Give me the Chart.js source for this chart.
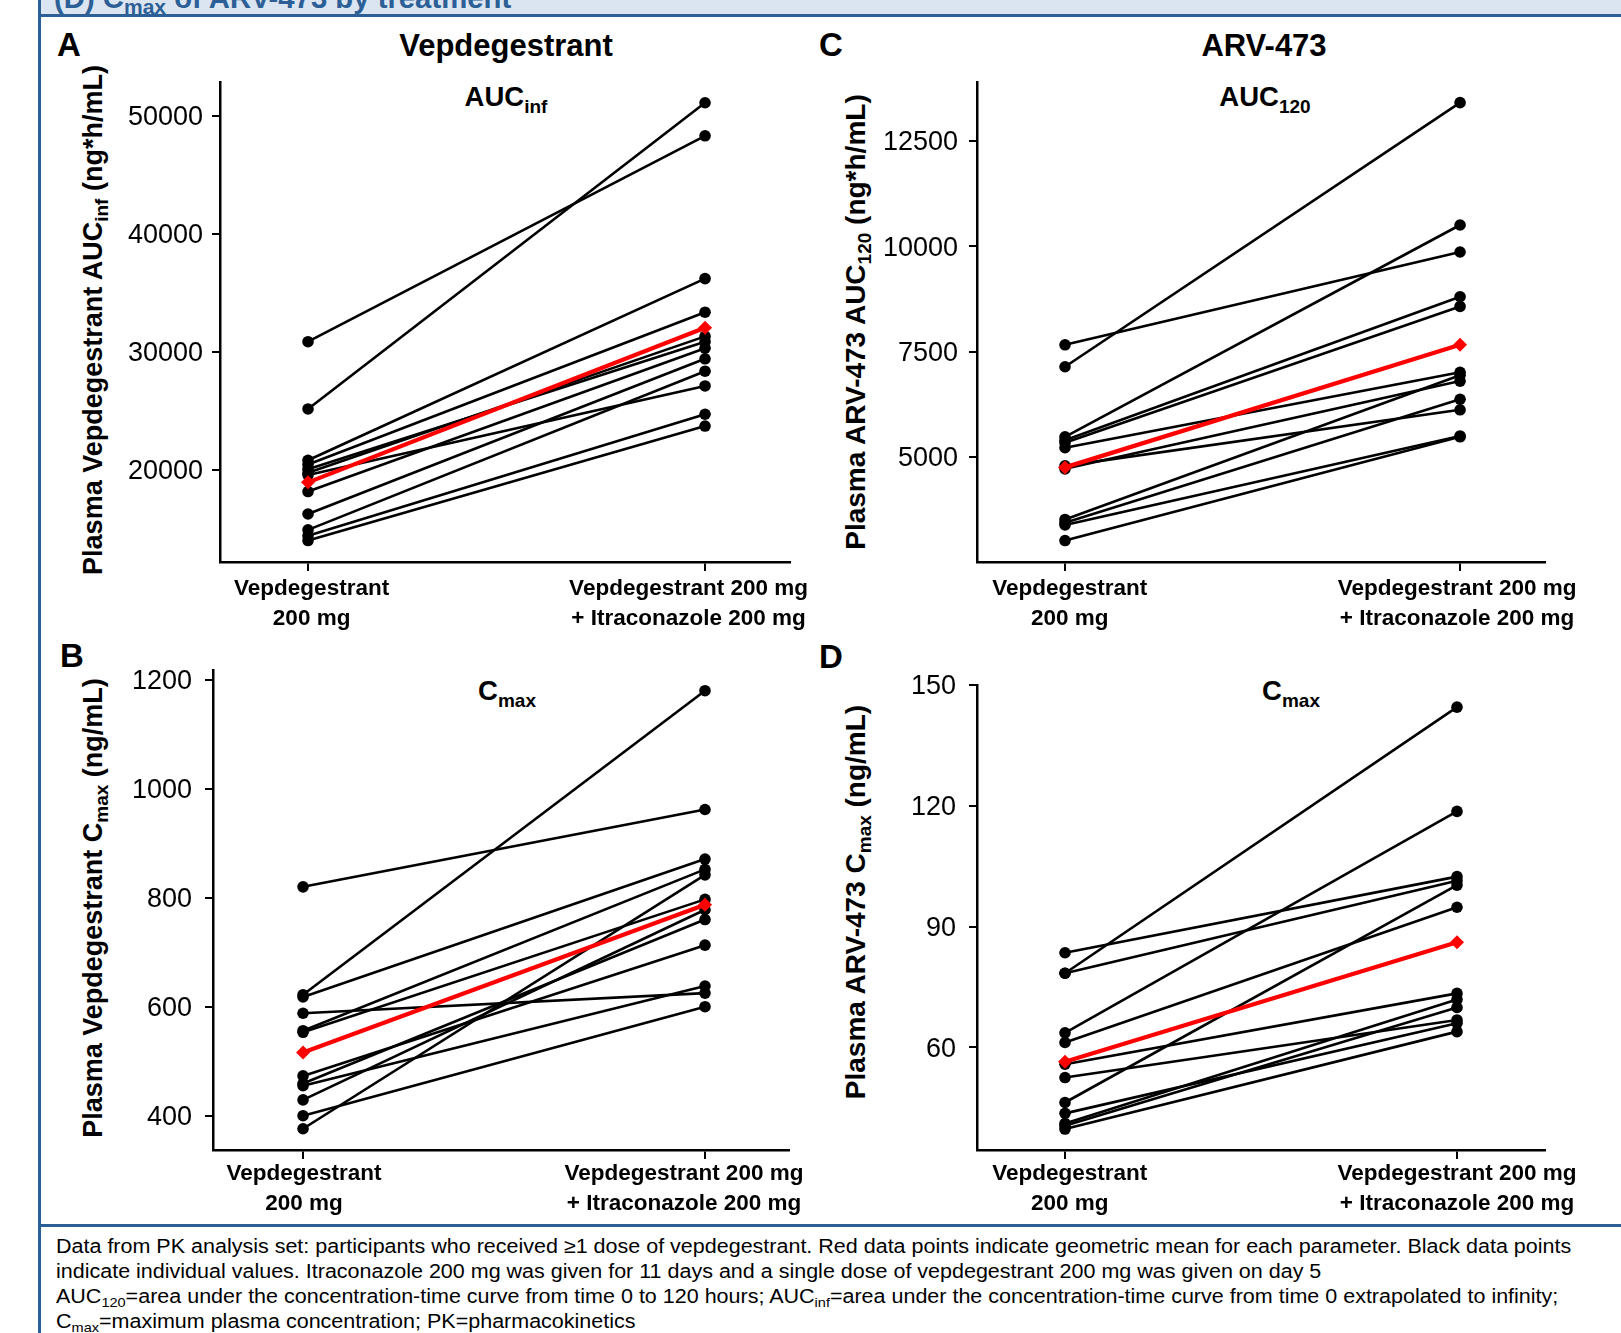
<!DOCTYPE html>
<html>
<head>
<meta charset="utf-8">
<script src="https://cdn.jsdelivr.net/npm/chart.js@4.4.1/dist/chart.umd.min.js"></script>
<style>
  html, body { margin:0; padding:0; background:#fff; }
  body { width:1621px; height:1333px; position:relative; overflow:hidden;
         font-family:"Liberation Sans", Arial, sans-serif; color:#000; }
  .t { position:absolute; white-space:nowrap; line-height:1; }
  .b { font-weight:bold; }
  .c { text-align:center; width:600px; }
  .sub { font-size:19px; vertical-align:-7px; line-height:0; }
  .ytitle { position:absolute; white-space:nowrap; line-height:1; font-weight:bold; font-size:27px;
            transform:translate(-50%,-50%) rotate(-90deg); }
  .ytitle .sub { font-size:19px; vertical-align:-6px; }
  canvas { position:absolute; }
  #band { position:absolute; left:40px; top:0; width:1581px; height:14px; background:#dbe5f1; }
  #bandline { position:absolute; left:38px; top:14px; width:1583px; height:2.5px; background:#2c5f96; }
  #lborder { position:absolute; left:38px; top:0; width:2.5px; height:1333px; background:#2c5f96; }
  #divider { position:absolute; left:38px; top:1224px; width:1583px; height:2.5px; background:#2c5f96; }
  #header { left:54px; top:-16.8px; font-size:29.3px; font-weight:bold; color:#2c5f96; }
  #header .sub { font-size:21px; vertical-align:-6px; }
  #foot { position:absolute; left:56px; top:1233.5px; font-size:20px; line-height:25px; white-space:nowrap;
          transform:scaleX(1.075); transform-origin:0 0; }
  #foot sub { font-size:13.5px; vertical-align:-4px; line-height:0; }
</style>
</head>
<body>
<div id="band"></div>
<div id="bandline"></div>
<div id="lborder"></div>
<div id="divider"></div>
<div class="t" id="header">(D) C<span class="sub">max</span> of ARV-473 by treatment</div>

<div class="t b" style="left:57px;top:27.6px;font-size:33px;">A</div>
<div class="t b" style="left:819px;top:27.6px;font-size:33px;">C</div>
<div class="t b" style="left:60px;top:639px;font-size:33px;">B</div>
<div class="t b" style="left:819px;top:640px;font-size:33px;">D</div>

<div class="t b c" style="left:206px;top:29.8px;font-size:31px;">Vepdegestrant</div>
<div class="t b c" style="left:964px;top:29.8px;font-size:31px;">ARV-473</div>

<div class="t b c" style="left:206px;top:82.8px;font-size:27.5px;">AUC<span class="sub">inf</span></div>
<div class="t b c" style="left:965px;top:82.8px;font-size:27.5px;">AUC<span class="sub">120</span></div>
<div class="t b c" style="left:207px;top:677.3px;font-size:27.5px;">C<span class="sub">max</span></div>
<div class="t b c" style="left:991px;top:677.3px;font-size:27.5px;">C<span class="sub">max</span></div>

<div class="ytitle" style="left:93px;top:320px;">Plasma Vepdegestrant AUC<span class="sub">inf</span> (ng*h/mL)</div>
<div class="ytitle" style="left:856px;top:322px;font-size:28px;">Plasma ARV-473 AUC<span class="sub">120</span> (ng*h/mL)</div>
<div class="ytitle" style="left:93px;top:908px;">Plasma Vepdegestrant C<span class="sub">max</span> (ng/mL)</div>
<div class="ytitle" style="left:856px;top:902px;font-size:28px;">Plasma ARV-473 C<span class="sub">max</span> (ng/mL)</div>

<canvas id="cA" width="740" height="600" style="left:100px;top:60px;width:740px;height:600px;"></canvas>
<canvas id="cC" width="764" height="600" style="left:857px;top:60px;width:764px;height:600px;"></canvas>
<canvas id="cB" width="747" height="580" style="left:93px;top:648px;width:747px;height:580px;"></canvas>
<canvas id="cD" width="764" height="565" style="left:857px;top:663px;width:764px;height:565px;"></canvas>

<div id="foot">Data from PK analysis set: participants who received ≥1 dose of vepdegestrant. Red data points indicate geometric mean for each parameter. Black data points<br>indicate individual values. Itraconazole 200 mg was given for 11 days and a single dose of vepdegestrant 200 mg was given on day 5<br>AUC<sub>120</sub>=area under the concentration-time curve from time 0 to 120 hours; AUC<sub>inf</sub>=area under the concentration-time curve from time 0 extrapolated to infinity;<br>C<sub>max</sub>=maximum plasma concentration; PK=pharmacokinetics</div>

<script>
// ---- Data ----
const treatmentLabels = [["Vepdegestrant", "200 mg"], ["Vepdegestrant 200 mg", "+ Itraconazole 200 mg"]];

// Panel A: Vepdegestrant AUCinf (ng*h/mL)
const vepAucInfAlone    = [30850, 25150, 20800, 20450, 20050, 19750, 19550, 18150, 16250, 14900, 14400, 14000];
const vepAucInfWithItra = [48300, 51100, 36200, 33350, 30850, 31300, 27100, 30300, 29400, 28350, 24700, 23700];
const vepAucInfGeoMean  = [18930, 32030];
const vepAucInfTicks    = [20000, 30000, 40000, 50000];

// Panel B: Vepdegestrant Cmax (ng/mL)
const vepCmaxAlone    = [820, 622, 618, 588, 556, 553, 473, 459, 455, 429, 400, 376];
const vepCmaxWithItra = [962, 1180, 871, 625, 852, 797, 713, 760, 638, 778, 600, 842];
const vepCmaxGeoMean  = [516, 787];
const vepCmaxTicks    = [400, 600, 800, 1000, 1200];

// Panel C: ARV-473 AUC120 (ng*h/mL)
const arvAuc120Alone    = [7660, 7140, 5480, 5400, 5340, 5220, 4790, 4720, 3520, 3440, 3390, 3020];
const arvAuc120WithItra = [9860, 13400, 10500, 8800, 8570, 7010, 6120, 6800, 6940, 6370, 5500, 5480];
const arvAuc120GeoMean  = [4755, 7660];
const arvAuc120Ticks    = [5000, 7500, 10000, 12500];

// Panel D: ARV-473 Cmax (ng/mL)
const arvCmaxAlone    = [83.5, 78.4, 78.4, 63.6, 61.2, 55.8, 52.5, 46.3, 43.6, 41.1, 40.5, 39.7];
const arvCmaxWithItra = [102.4, 144.5, 101.4, 118.6, 94.8, 73.4, 66.8, 100.3, 66.0, 71.9, 69.9, 63.9];
const arvCmaxGeoMean  = [56.4, 86.1];
const arvCmaxTicks    = [60, 90, 120, 150];

Chart.defaults.font.family = '"Liberation Sans", Arial, sans-serif';
Chart.defaults.color = '#000';

// nudges the category label blocks sideways, as in the reference
const labelShiftPlugin = {
  id: 'labelShift',
  beforeDraw(chart, args, opts) {
    const items = chart.scales.x.getLabelItems();
    items.forEach((it, i) => {
      if (!it._shifted) { it.options.translation[0] += (opts.shifts[i] || 0); it._shifted = true; }
    });
  }
};

function makePanel(id, alone, withItra, geo, ticks, s) {
  const datasets = [];
  datasets.push({
    data: [{x: 0, y: geo[0]}, {x: 1, y: geo[1]}],
    borderColor: '#ff0000', backgroundColor: '#ff0000', borderWidth: 4.2,
    pointStyle: 'rectRot', pointRadius: 7, pointBorderWidth: 0, clip: false
  });
  for (let i = 0; i < alone.length; i++) {
    datasets.push({
      data: [{x: 0, y: alone[i]}, {x: 1, y: withItra[i]}],
      borderColor: '#000', backgroundColor: '#000', borderWidth: 2.6,
      pointStyle: 'circle', pointRadius: 5.8, pointBorderWidth: 0, clip: false
    });
  }
  new Chart(document.getElementById(id), {
    type: 'line',
    data: { datasets },
    plugins: [labelShiftPlugin],
    options: {
      responsive: false, animation: false, devicePixelRatio: 1, events: [],
      layout: { padding: { top: s.padTop, right: s.padRight, left: 0, bottom: 0 } },
      plugins: { legend: { display: false }, tooltip: { enabled: false }, title: { display: false },
                 labelShift: { shifts: s.shifts } },
      scales: {
        x: {
          type: 'linear', min: s.xMin, max: s.xMax,
          afterBuildTicks: sc => { sc.ticks = [0, 1].map(v => ({ value: v })); },
          afterFit: sc => { sc.height = s.xHeight; sc.paddingLeft = 0; sc.paddingRight = 0; },
          grid: { display: true, drawOnChartArea: false, drawTicks: true, tickLength: 9, color: '#000', lineWidth: 2 },
          border: { display: true, color: '#000', width: 2.5 },
          ticks: { autoSkip: false, maxRotation: 0, minRotation: 0, padding: s.xPad, color: '#000',
                   font: { size: 22.5, weight: 'bold', lineHeight: 30 / 22.5 },
                   callback: v => treatmentLabels[v] }
        },
        y: {
          type: 'linear', min: s.yMin, max: s.yMax,
          afterBuildTicks: sc => { sc.ticks = ticks.map(v => ({ value: v })); },
          afterFit: sc => { sc.width = 120; sc.paddingTop = 0; sc.paddingBottom = 0; },
          grid: { display: true, drawOnChartArea: false, drawTicks: true, tickLength: 8, color: '#000', lineWidth: 2 },
          border: { display: true, color: '#000', width: 2.5 },
          ticks: { autoSkip: false, padding: s.yPad, labelOffset: 2, color: '#000', font: { size: 27 },
                   callback: v => String(v) }
        }
      }
    }
  });
}

makePanel('cA', vepAucInfAlone, vepAucInfWithItra, vepAucInfGeoMean, vepAucInfTicks,
  { padTop: 22, padRight: 50, xHeight: 98, xPad: 3, yPad: 9, xMin: -0.2217, xMax: 1.214, yMin: 12180, yMax: 52860, shifts: [3.6, -16.5] });
makePanel('cC', arvAuc120Alone, arvAuc120WithItra, arvAuc120GeoMean, arvAuc120Ticks,
  { padTop: 22, padRight: 76, xHeight: 98, xPad: 3, yPad: 11, xMin: -0.2228, xMax: 1.215, yMin: 2512, yMax: 13890, shifts: [4.7, -3] });
makePanel('cB', vepCmaxAlone, vepCmaxWithItra, vepCmaxGeoMean, vepCmaxTicks,
  { padTop: 22, padRight: 51, xHeight: 78, xPad: 0, yPad: 13, xMin: -0.224, xMax: 1.209, yMin: 337, yMax: 1218, shifts: [1, -21] });
makePanel('cD', arvCmaxAlone, arvCmaxWithItra, arvCmaxGeoMean, arvCmaxTicks,
  { padTop: 22, padRight: 76, xHeight: 78, xPad: 0, yPad: 13, xMin: -0.2245, xMax: 1.2245, yMin: 34.5, yMax: 150, shifts: [4.7, 0] });
</script>
</body>
</html>
